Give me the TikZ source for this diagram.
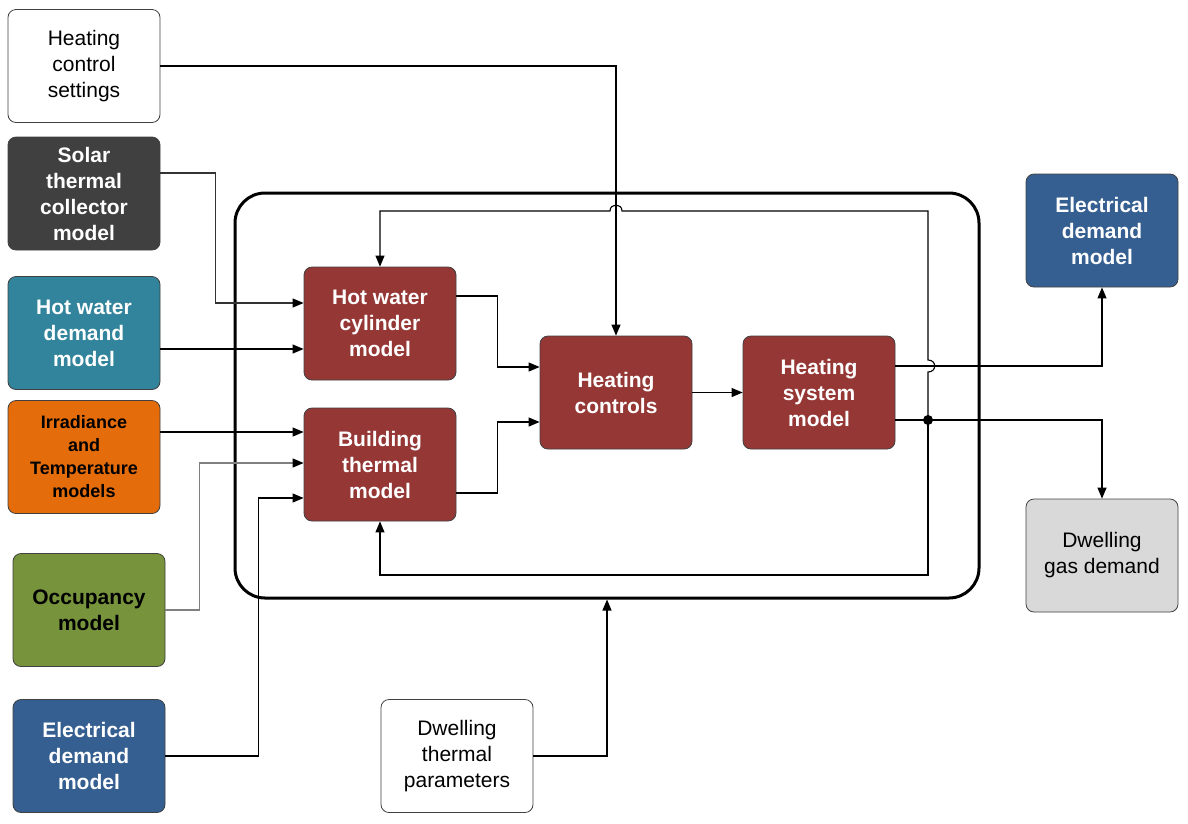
\documentclass[tikz,border=0pt]{standalone}
\usepackage{fontspec}
\setmainfont{Liberation Sans}
\usetikzlibrary{arrows.meta}
\definecolor{solarGrey}{HTML}{404040}
\definecolor{waterTeal}{HTML}{31849B}
\definecolor{sunOrange}{HTML}{E46C0A}
\definecolor{occOlive}{HTML}{77933C}
\definecolor{elecBlue}{HTML}{365F91}
\definecolor{coreRed}{HTML}{953735}
\definecolor{gasGrey}{HTML}{D9D9D9}

\begin{document}
\begin{tikzpicture}[x=1pt, y=-1pt, line width=1.1pt, >={Triangle[length=11pt,width=9pt,color=black]},
  box/.style={draw=black!75, line width=0.8pt, rounded corners=8pt, rectangle,
    minimum width=152pt, minimum height=113pt, align=center,
    font=\fontsize{21}{26}\selectfont},
  model/.style={box, font=\fontsize{21}{26}\selectfont\bfseries}]
  \useasboundingbox (0,0) rectangle (1188,823);

  % the dwelling model
  \node [draw,line width=3pt,rounded corners=30pt,minimum width=744pt,minimum height=405pt] (sys) at (607,395.5) {};

  % inputs on the left
  \node [box,fill=white] (hcs) at (84,66) {Heating\\control\\settings};
  \node [model,fill=solarGrey,text=white] (stc) at (84,193.5) {Solar\\thermal\\collector\\model};
  \node [model,fill=waterTeal,text=white] (hwd) at (84,333) {Hot water\\demand\\model};
  \node [model,fill=sunOrange,font=\fontsize{18}{23}\selectfont\bfseries] (irr) at (84,457) {Irradiance\\and\\Temperature\\models};
  \node [model,fill=occOlive] (occ) at (89,610) {Occupancy\\model};
  \node [model,fill=elecBlue,text=white] (edl) at (89,756) {Electrical\\demand\\model};
  \node [box,fill=white] (dtp) at (457,756) {Dwelling\\thermal\\parameters};

  % inside the dwelling
  \node [model,fill=coreRed,text=white] (hwc) at (380,323.5) {Hot water\\cylinder\\model};
  \node [model,fill=coreRed,text=white] (btm) at (380,464.5) {Building\\thermal\\model};
  \node [model,fill=coreRed,text=white] (hc) at (616,392.5) {Heating\\controls};
  \node [model,fill=coreRed,text=white] (hsm) at (819,392.5) {Heating\\system\\model};

  % outputs on the right
  \node [model,fill=elecBlue,text=white] (edr) at (1102,230.5) {Electrical\\demand\\model};
  \node [box,fill=gasGrey] (gas) at (1102,555.5) {Dwelling\\gas demand};

  % inputs
  \draw[->] (hcs.east) -| (hc.north);
  \draw[->,draw=black!80] ([yshift=20.5pt]stc.east) -- ++(55,0) |- ([yshift=20.5pt]hwc.west);
  \draw[->] ([yshift=-16pt]hwd.east) -- ([yshift=-25.5pt]hwc.west);
  \draw[->] ([yshift=25pt]irr.east) -- ([yshift=32.5pt]btm.west);
  \draw[->,draw=black!50] (occ.east) -- ++(34,0) |- ([yshift=1.5pt]btm.west);
  \draw[->] (edl.east) -- ++(93,0) |- ([yshift=-33.5pt]btm.west);
  \draw[->] (dtp.east) -| (sys.south);

  % inside
  \draw[->] ([yshift=27.5pt]hwc.east) -- ++(41,0) |- ([yshift=25.5pt]hc.west);
  \draw[->] ([yshift=-28.5pt]btm.east) -- ++(41,0) |- ([yshift=-29.5pt]hc.west);
  \draw[->] (hc.east) -- (hsm.west);

  % outputs
  \draw[->] ([yshift=26.5pt]hsm.east) -| (edr.south);
  \draw[->] ([yshift=-27.5pt]hsm.east) -| (gas.north);

  % feedback
  \coordinate (fb) at (928,420);
  \fill (fb) circle (5pt);
  \draw[->] (fb) -- (928,372) .. controls (937,372) and (937,360) .. (928,360)
    |- (622,211) .. controls (622,203) and (610,203) .. (610,211) -| (hwc.north);
  \draw[->] (fb) -- (928,575) -| (btm.south);
\end{tikzpicture}
\end{document}
